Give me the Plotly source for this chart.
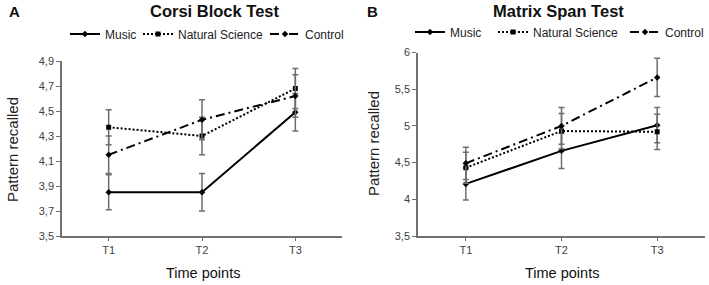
import plotly.graph_objects as go

time_points = ["T1", "T2", "T3"]

# Panel A: Corsi Block Test
corsi_music = [3.85, 3.85, 4.49]
corsi_music_err = [0.14, 0.15, 0.15]
corsi_natsci = [4.37, 4.30, 4.68]
corsi_natsci_err = [0.14, 0.15, 0.16]
corsi_control = [4.15, 4.43, 4.62]
corsi_control_err = [0.15, 0.16, 0.17]

# Panel B: Matrix Span Test
matrix_music = [4.21, 4.66, 5.01]
matrix_music_err = [0.22, 0.24, 0.24]
matrix_natsci = [4.43, 4.93, 4.92]
matrix_natsci_err = [0.21, 0.24, 0.24]
matrix_control = [4.49, 5.00, 5.66]
matrix_control_err = [0.22, 0.25, 0.26]

series_names = ["Music", "Natural Science", "Control"]
dashes = ["solid", "2px,2px", "9px,4px,2px,4px"]
symbols = ["diamond", "square", "diamond"]

W, H = 709, 285
FONT = "Liberation Sans, Arial, sans-serif"

fig = go.Figure()

def add_panel(vals, errs, xa, ya, legends):
    for name, v, e, d, s, lg in zip(series_names, vals, errs, dashes, symbols, legends):
        fig.add_trace(go.Scatter(
            x=time_points, y=v, name=name, mode="lines+markers",
            line=dict(color="black", width=2, dash=d),
            marker=dict(symbol=s, size=5, color="black"),
            error_y=dict(type="data", array=e, visible=True, color="#6e6e6e",
                         thickness=1.5, width=3),
            xaxis=xa, yaxis=ya, legend=lg,
        ))

add_panel([corsi_music, corsi_natsci, corsi_control],
          [corsi_music_err, corsi_natsci_err, corsi_control_err], "x", "y",
          ["legend", "legend2", "legend3"])
add_panel([matrix_music, matrix_natsci, matrix_control],
          [matrix_music_err, matrix_natsci_err, matrix_control_err], "x2", "y2",
          ["legend4", "legend5", "legend6"])

axis_common = dict(showline=True, linecolor="#707070", linewidth=1.5, showgrid=False,
                   zeroline=False, ticks="outside", tickcolor="#707070",
                   tickfont=dict(family=FONT, size=11, color="#404040"), fixedrange=True)

yA_bot, yA_top = 1 - 236 / H, 1 - 61 / H
yB_bot, yB_top = 1 - 236 / H, 1 - 52.5 / H

def leg(xpx, ypx):
    return dict(orientation="h", x=(xpx - 5) / W, y=1 - ypx / H, xanchor="left", yanchor="middle",
                font=dict(family=FONT, size=12, color="#222222"), itemwidth=30,
                bgcolor="rgba(0,0,0,0)", borderwidth=0)

fig.update_layout(
    width=W, height=H, margin=dict(l=0, r=0, t=0, b=0, autoexpand=False),
    paper_bgcolor="white", plot_bgcolor="white",
    separators=",.",
    font=dict(family=FONT, color="#222222"),
    xaxis=dict(domain=[62 / W, 342 / W], range=[-0.5, 2.5], ticklen=3, **axis_common),
    yaxis=dict(domain=[yA_bot, yA_top], range=[3.5, 4.9], tick0=3.5, dtick=0.2, ticklen=4, **axis_common),
    xaxis2=dict(domain=[418 / W, 705 / W], range=[-0.5, 2.5], anchor="y2", ticklen=3, **axis_common),
    yaxis2=dict(domain=[yB_bot, yB_top], range=[3.5, 6], tick0=3.5, dtick=0.5, anchor="x2", ticklen=4, **axis_common),
    legend=leg(70, 34), legend2=leg(143, 34), legend3=leg(270, 34),
    legend4=leg(415, 32), legend5=leg(498, 32), legend6=leg(630, 32),
    showlegend=True,
)

ann = [
    dict(text="<b>A</b>", x=14 / W, y=1 - 11 / H, size=15),
    dict(text="<b>B</b>", x=373 / W, y=1 - 11 / H, size=15),
    dict(text="<b>Corsi Block Test</b>", x=215 / W, y=1 - 11 / H, size=16.5),
    dict(text="<b>Matrix Span Test</b>", x=558 / W, y=1 - 11 / H, size=16.5),
    dict(text="Time points", x=203 / W, y=1 - 273 / H, size=14.5),
    dict(text="Time points", x=562 / W, y=1 - 273 / H, size=14.5),
]
for a in ann:
    fig.add_annotation(text=a["text"], x=a["x"], y=a["y"], xref="paper", yref="paper",
                       showarrow=False, xanchor="center", yanchor="middle",
                       font=dict(family=FONT, size=a["size"], color="#111111"))

for xp, yp in [(12, 150), (373, 143)]:
    fig.add_annotation(text="Pattern recalled", x=xp / W, y=1 - yp / H, xref="paper", yref="paper",
                       showarrow=False, textangle=-90, xanchor="center", yanchor="middle",
                       font=dict(family=FONT, size=15, color="#222222"))

fig.write_html("out.html", config={"displayModeBar": False},
               post_script="document.body.style.margin='0px';")
